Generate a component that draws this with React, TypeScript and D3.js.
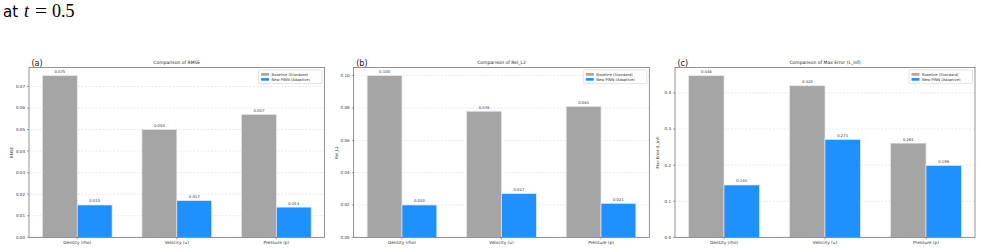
import React, { useEffect, useRef } from 'react';
import * as d3 from 'd3';

const categories = ['Density (rho)', 'Velocity (u)', 'Pressure (p)'];
const seriesNames = ['Baseline (Standard)', 'New PINN (Adaptive)'];

const rmseBaseline = [0.075, 0.05, 0.057];
const rmseAdaptive = [0.015, 0.017, 0.014];
const relL2Baseline = [0.1, 0.078, 0.081];
const relL2Adaptive = [0.02, 0.027, 0.021];
const linfBaseline = [0.448, 0.42, 0.261];
const linfAdaptive = [0.145, 0.271, 0.199];

const rmseTicks = [0, 0.01, 0.02, 0.03, 0.04, 0.05, 0.06, 0.07];
const relL2Ticks = [0, 0.02, 0.04, 0.06, 0.08, 0.1];
const linfTicks = [0, 0.1, 0.2, 0.3, 0.4];

interface Panel {
  tag: string;
  title: string;
  ylabel: string;
  baseline: number[];
  adaptive: number[];
  ticks: number[];
  tickFmt: string;
  left: number;
  right: number;
}

const panels: Panel[] = [
  { tag: '(a)', title: 'Comparison of RMSE', ylabel: 'RMSE', baseline: rmseBaseline, adaptive: rmseAdaptive, ticks: rmseTicks, tickFmt: '.2f', left: 29, right: 324.6 },
  { tag: '(b)', title: 'Comparison of Rel_L2', ylabel: 'Rel_L2', baseline: relL2Baseline, adaptive: relL2Adaptive, ticks: relL2Ticks, tickFmt: '.2f', left: 353.7, right: 649.3 },
  { tag: '(c)', title: 'Comparison of Max Error (L_inf)', ylabel: 'Max Error (L_inf)', baseline: linfBaseline, adaptive: linfAdaptive, ticks: linfTicks, tickFmt: '.1f', left: 675, right: 975 },
];

const GRAY = '#a5a5a5';
const BLUE = '#1e90ff';
const FONT = 'DejaVu Sans, sans-serif';
const TOP = 67.6;
const BOTTOM = 237.3;
const BAR_W = 0.35;

const App: React.FC = () => {
  const svgRef = useRef<SVGSVGElement>(null);

  useEffect(() => {
    if (!svgRef.current) return;
    const svg = d3.select(svgRef.current);
    svg.selectAll('g.panel').remove();

    panels.forEach(p => {
      const g = svg.append('g').attr('class', 'panel');
      const ymax = d3.max(p.baseline.concat(p.adaptive)) as number;

      const x = d3.scaleLinear().domain([-BAR_W - 0.135, 2 + BAR_W + 0.135]).range([p.left, p.right]);
      const y = d3.scaleLinear().domain([0, ymax * 1.05]).range([BOTTOM, TOP]);

      // dashed horizontal grid
      g.selectAll('.grid')
        .data(p.ticks)
        .enter()
        .append('line')
        .attr('x1', p.left)
        .attr('x2', p.right)
        .attr('y1', d => y(d))
        .attr('y2', d => y(d))
        .attr('stroke', '#dcdcdc')
        .attr('stroke-width', 0.6)
        .attr('stroke-dasharray', '2,1.5');

      const bars = [
        { vals: p.baseline, off: -BAR_W, color: GRAY },
        { vals: p.adaptive, off: 0, color: BLUE },
      ];

      bars.forEach(s => {
        g.selectAll(null)
          .data(s.vals)
          .enter()
          .append('rect')
          .attr('x', (_, i) => x(i + s.off))
          .attr('width', x(BAR_W) - x(0))
          .attr('y', d => y(d))
          .attr('height', d => BOTTOM - y(d))
          .attr('fill', s.color)
          .attr('stroke', '#e6e6e6')
          .attr('stroke-width', 0.7);

        g.selectAll(null)
          .data(s.vals)
          .enter()
          .append('text')
          .attr('x', (_, i) => x(i + s.off + BAR_W / 2))
          .attr('y', d => y(d) - 2.5)
          .attr('text-anchor', 'middle')
          .attr('font-size', 3.8)
          .attr('font-family', FONT)
          .attr('fill', '#333')
          .text(d => d3.format('.3f')(d));
      });

      // axes frame
      g.append('rect')
        .attr('x', p.left)
        .attr('y', TOP)
        .attr('width', p.right - p.left)
        .attr('height', BOTTOM - TOP)
        .attr('fill', 'none')
        .attr('stroke', '#666')
        .attr('stroke-width', 0.7);

      // y ticks
      p.ticks.forEach(t => {
        g.append('line')
          .attr('x1', p.left - 2)
          .attr('x2', p.left)
          .attr('y1', y(t))
          .attr('y2', y(t))
          .attr('stroke', '#666')
          .attr('stroke-width', 0.6);
        g.append('text')
          .attr('x', p.left - 4)
          .attr('y', y(t) + 1.4)
          .attr('text-anchor', 'end')
          .attr('font-size', 4.1)
          .attr('font-family', FONT)
          .attr('fill', '#333')
          .text(d3.format(p.tickFmt)(t));
      });

      // x ticks
      categories.forEach((c, i) => {
        g.append('line')
          .attr('x1', x(i))
          .attr('x2', x(i))
          .attr('y1', BOTTOM)
          .attr('y2', BOTTOM + 2)
          .attr('stroke', '#666')
          .attr('stroke-width', 0.6);
        g.append('text')
          .attr('x', x(i))
          .attr('y', BOTTOM + 7)
          .attr('text-anchor', 'middle')
          .attr('font-size', 4.3)
          .attr('font-family', FONT)
          .attr('fill', '#333')
          .text(c);
      });

      // y label
      g.append('text')
        .attr('transform', `translate(${p.left - 16},${(TOP + BOTTOM) / 2}) rotate(-90)`)
        .attr('text-anchor', 'middle')
        .attr('font-size', 3.9)
        .attr('font-family', FONT)
        .attr('fill', '#333')
        .text(p.ylabel);

      // title and panel tag
      g.append('text')
        .attr('x', (p.left + p.right) / 2)
        .attr('y', TOP - 4)
        .attr('text-anchor', 'middle')
        .attr('font-size', 4.5)
        .attr('font-family', FONT)
        .attr('fill', '#222')
        .text(p.title);
      g.append('text')
        .attr('x', p.left + 2.5)
        .attr('y', TOP - 1.2)
        .attr('font-size', 8)
        .attr('font-family', FONT)
        .attr('fill', '#111')
        .text(p.tag);

      // legend
      const lx = p.right - 66;
      const ly = TOP + 2.5;
      g.append('rect')
        .attr('x', lx)
        .attr('y', ly)
        .attr('width', 63.5)
        .attr('height', 13.5)
        .attr('rx', 1)
        .attr('fill', 'white')
        .attr('fill-opacity', 0.85)
        .attr('stroke', '#d0d0d0')
        .attr('stroke-width', 0.6);
      [GRAY, BLUE].forEach((col, k) => {
        g.append('rect')
          .attr('x', lx + 2.5)
          .attr('y', ly + 3 + k * 5)
          .attr('width', 8)
          .attr('height', 2.6)
          .attr('fill', col);
        g.append('text')
          .attr('x', lx + 13)
          .attr('y', ly + 5.5 + k * 5)
          .attr('font-size', 3.7)
          .attr('font-family', FONT)
          .attr('fill', '#333')
          .text(seriesNames[k]);
      });
    });
  }, []);

  return (
    <svg ref={svgRef} width={982} height={252} style={{ position: 'absolute', left: 0, top: 0, background: 'white' }}>
      <g fill="#000">
        <text x={3} y={17} fontFamily="DejaVu Sans, sans-serif" fontSize={15}>at</text>
        <text x={24} y={17} fontFamily="Liberation Serif, serif" fontStyle="italic" fontSize={18}>t</text>
        <text x={35} y={17} fontFamily="Liberation Serif, serif" fontSize={18} textLength={12} lengthAdjust="spacingAndGlyphs">=</text>
        <text x={52} y={17} fontFamily="Liberation Serif, serif" fontSize={18}>0.5</text>
      </g>
    </svg>
  );
};

export default App;
